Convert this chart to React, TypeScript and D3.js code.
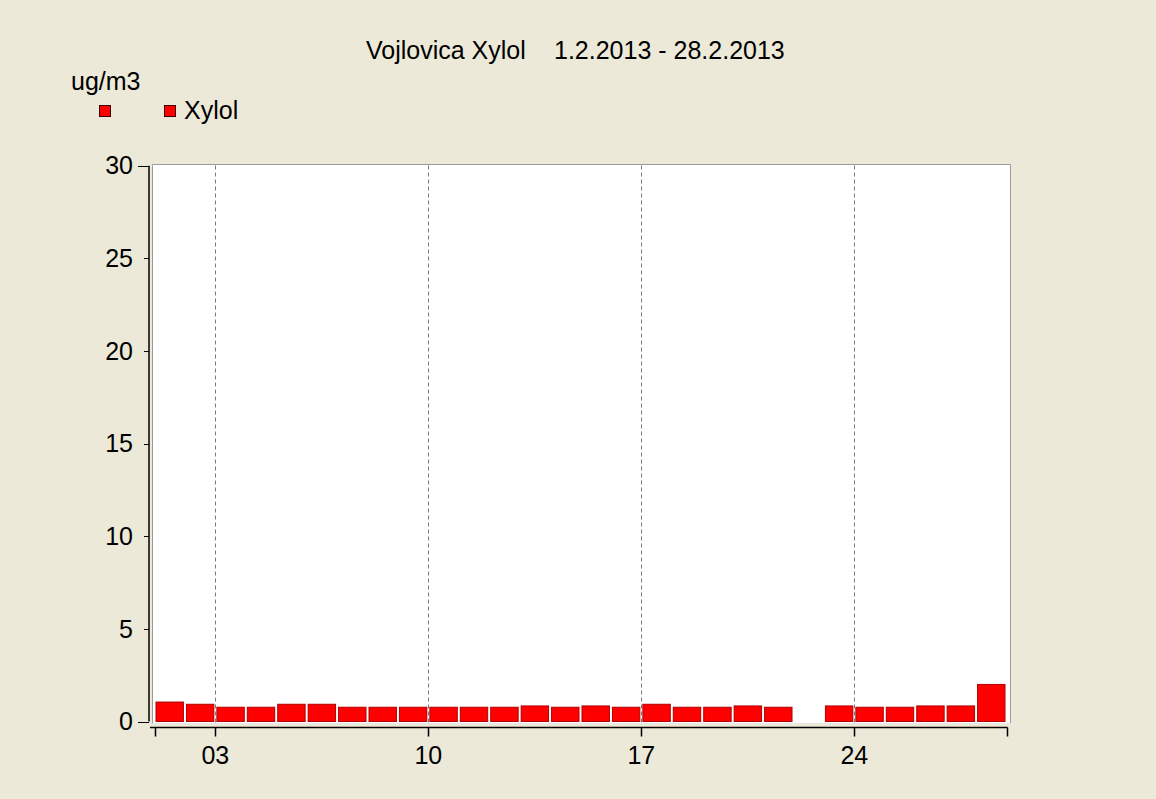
import React from "react";
import * as d3 from "d3";

const TITLE_LEFT = "Vojlovica Xylol";
const TITLE_RIGHT = "1.2.2013 - 28.2.2013";
const UNIT = "ug/m3";
const SERIES_NAME = "Xylol";
const DAYS: number[] = d3.range(1, 29);
const VALUES: (number | null)[] = [
  1.05, 0.93, 0.77, 0.77, 0.93, 0.93, 0.77, 0.77, 0.77, 0.77, 0.77, 0.77, 0.84, 0.77,
  0.84, 0.77, 0.93, 0.77, 0.77, 0.84, 0.77, null, 0.84, 0.77, 0.77, 0.84, 0.84, 2.0,
];
const Y_TICKS = [0, 5, 10, 15, 20, 25, 30];
const X_TICK_DAYS = [3, 10, 17, 24];
const X_TICK_LABELS = ["03", "10", "17", "24"];

const W = 1156;
const H = 799;
const BG = "#ECE9D8";
const FONT = "'Liberation Sans', Arial, sans-serif";
const FS = 25;

export default function App() {
  const start = new Date(2013, 1, 1);
  const end = new Date(2013, 2, 1);
  const x = d3.scaleTime().domain([start, end]).range([154.5, 1006.5]);
  const y = d3.scaleLinear().domain([0, 30]).range([721.5, 165.7]);
  const dayDate = (d: number) => new Date(2013, 1, d);

  const plotL = 152.5, plotT = 164.5, plotR = 1010.5, plotB = 723.5;
  const axisY = 727.5;

  return (
    <div style={{ position: "absolute", left: 0, top: 0 }}>
      <svg width={W} height={H} style={{ display: "block", fontFamily: FONT }}>
        <rect x={0} y={0} width={W} height={H} fill={BG} />
        {/* title */}
        <text x={366} y={59} fontSize={FS} fill="#000">{TITLE_LEFT}</text>
        <text x={554} y={59} fontSize={FS} fill="#000">{TITLE_RIGHT}</text>
        {/* legend */}
        <text x={71} y={90} fontSize={FS} fill="#000">{UNIT}</text>
        <rect x={99.5} y={105.5} width={11} height={11} fill="#ff0000" stroke="#400000" />
        <rect x={164.5} y={105.5} width={11} height={11} fill="#ff0000" stroke="#400000" />
        <text x={184} y={119} fontSize={FS} fill="#000">{SERIES_NAME}</text>

        {/* plot area */}
        <rect x={plotL} y={plotT} width={plotR - plotL} height={plotB - plotT} fill="#ffffff" />
        <path d={`M${plotL},${plotB}V${plotT}H${plotR}V${plotB}`} fill="none" stroke="#9a9a9a" />
        <line x1={plotL} x2={plotR} y1={plotB} y2={plotB} stroke="#e6e6e6" />

        {/* grid */}
        {X_TICK_DAYS.map((d) => (
          <line key={"g" + d} x1={Math.round(x(dayDate(d))) + 0.5} x2={Math.round(x(dayDate(d))) + 0.5}
            y1={plotT + 1} y2={plotB - 1} stroke="#7a7a7a" strokeDasharray="4,3" />
        ))}

        {/* bars */}
        {DAYS.map((d, i) => {
          const v = VALUES[i];
          if (v == null) return null;
          const x0 = x(dayDate(d)) + 1.5;
          const x1 = x(dayDate(d + 1)) - 1.5;
          return (
            <rect key={"b" + d} x={x0} y={y(v)} width={x1 - x0} height={y(0) - y(v)}
              fill="#ff0000" stroke="#b00000" strokeWidth={1} />
          );
        })}

        {/* y axis */}
        <line x1={149} x2={149} y1={y(30)} y2={y(0)} stroke="#000" strokeWidth={1.5} />
        {Y_TICKS.map((t) => {
          const long = t === 0 || t === 30;
          return (
            <g key={"y" + t}>
              <line x1={long ? 138 : 144} x2={149} y1={Math.round(y(t)) + 0.5} y2={Math.round(y(t)) + 0.5} stroke="#000" />
              <text x={133} y={y(t)} dy="0.35em" textAnchor="end" fontSize={FS} fill="#000">{t}</text>
            </g>
          );
        })}

        {/* x axis */}
        <line x1={150} x2={1007.5} y1={axisY} y2={axisY} stroke="#000" strokeWidth={1.5} />
        {[start, ...X_TICK_DAYS.map(dayDate), end].map((dt, i) => (
          <line key={"xt" + i} x1={Math.round(x(dt)) + 0.5} x2={Math.round(x(dt)) + 0.5}
            y1={axisY} y2={axisY + 9} stroke="#000" strokeWidth={1.5} />
        ))}
        {X_TICK_DAYS.map((d, i) => (
          <text key={"xl" + d} x={x(dayDate(d))} y={764} textAnchor="middle" fontSize={FS} fill="#000">
            {X_TICK_LABELS[i]}
          </text>
        ))}
      </svg>
    </div>
  );
}
